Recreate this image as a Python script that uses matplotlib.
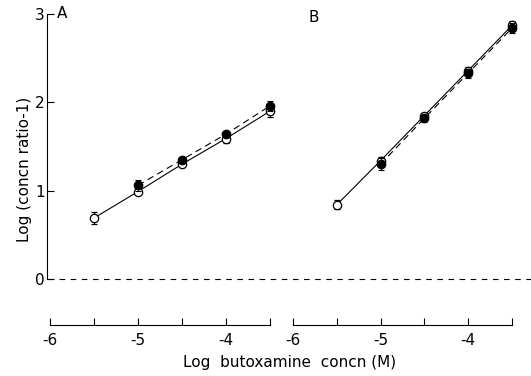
import matplotlib
matplotlib.use("Agg")
import matplotlib.pyplot as plt
import numpy as np

# log butoxamine concentration (M)
x_open_a = [-5.5, -5.0, -4.5, -4.0, -3.5]
y_open_a = [0.69, 0.99, 1.30, 1.59, 1.90]
e_open_a = [0.07, 0.03, 0.03, 0.05, 0.07]
x_fill_a = [-5.0, -4.5, -4.0, -3.5]
y_fill_a = [1.06, 1.35, 1.64, 1.96]
e_fill_a = [0.06, 0.03, 0.03, 0.06]

x_open_b = [-5.5, -5.0, -4.5, -4.0, -3.5]
y_open_b = [0.84, 1.34, 1.85, 2.36, 2.87]
e_open_b = [0.05, 0.04, 0.03, 0.04, 0.05]
x_fill_b = [-5.0, -4.5, -4.0, -3.5]
y_fill_b = [1.30, 1.82, 2.33, 2.84]
e_fill_b = [0.07, 0.04, 0.05, 0.06]

xticks = [-6, -5.5, -5, -4.5, -4, -3.5]
xlabels = ["-6", "", "-5", "", "-4", ""]

W, H = 531, 376
fig = plt.figure(figsize=(W / 100, H / 100), dpi=100)
plt.rcParams['font.family'] = 'DejaVu Sans'

bot, top = 325, 14
axA = fig.add_axes([50 / W, (H - bot) / H, 220 / W, (bot - top) / H])
axB = fig.add_axes([293 / W, (H - bot) / H, 219 / W, (bot - top) / H])

ylo = -(bot - 279) / 88.3

def draw(ax, xo, yo, eo, xf, yf, ef):
    ax.patch.set_visible(False)
    ax.plot(xo, yo, color='black', lw=0.8, zorder=2)
    ax.plot(xf, yf, color='black', lw=0.8, ls=(0, (6, 4)), zorder=2)
    ax.errorbar(xo, yo, yerr=eo, fmt='o', ms=6, mfc='white', mec='black',
                mew=0.9, ecolor='black', elinewidth=0.8, capsize=2,
                capthick=0.8, clip_on=False, zorder=3)
    ax.errorbar(xf, yf, yerr=ef, fmt='o', ms=6, mfc='black', mec='black',
                ecolor='black', elinewidth=0.8, capsize=2, capthick=0.8,
                clip_on=False, zorder=4)
    ax.set_xlim(-6, -3.5)
    ax.set_ylim(ylo, 3.0)
    for s in ['top', 'right', 'left']:
        ax.spines[s].set_visible(False)
    ax.spines['bottom'].set_linewidth(0.8)
    ax.set_xticks(xticks)
    ax.set_xticklabels(xlabels, fontsize=11)
    ax.tick_params(axis='x', direction='in', length=5, width=0.8, pad=6)
    ax.set_yticks([])

draw(axA, x_open_a, y_open_a, e_open_a, x_fill_a, y_fill_a, e_fill_a)
draw(axB, x_open_b, y_open_b, e_open_b, x_fill_b, y_fill_b, e_fill_b)

# y axis only on panel A
axA.spines['left'].set_visible(True)
axA.spines['left'].set_bounds(0, 3)
axA.spines['left'].set_position(('outward', 2))
axA.spines['left'].set_linewidth(0.8)
axA.set_yticks([0, 1, 2, 3])
axA.set_yticklabels(['0', '1', '2', '3'], fontsize=11)
axA.tick_params(axis='y', direction='in', length=5, width=0.8, pad=2)
axA.set_ylabel('Log (concn ratio-1)', fontsize=11, labelpad=2)

# dashed zero line across both panels
axA.axhline(0, xmin=-2 / 220, xmax=(531 - 50) / 220, color='black', lw=0.8,
            ls=(0, (5, 5)), clip_on=False, zorder=1)

axA.text(0.03, 1.0, 'A', transform=axA.transAxes, fontsize=11, va='center')
axB.text(0.07, 0.99, 'B', transform=axB.transAxes, fontsize=11, va='center')

fig.text(290 / W, 1 - 362 / H, 'Log  butoxamine  concn (M)', fontsize=11,
         ha='center', va='center')

fig.savefig('out.png', dpi=100)
